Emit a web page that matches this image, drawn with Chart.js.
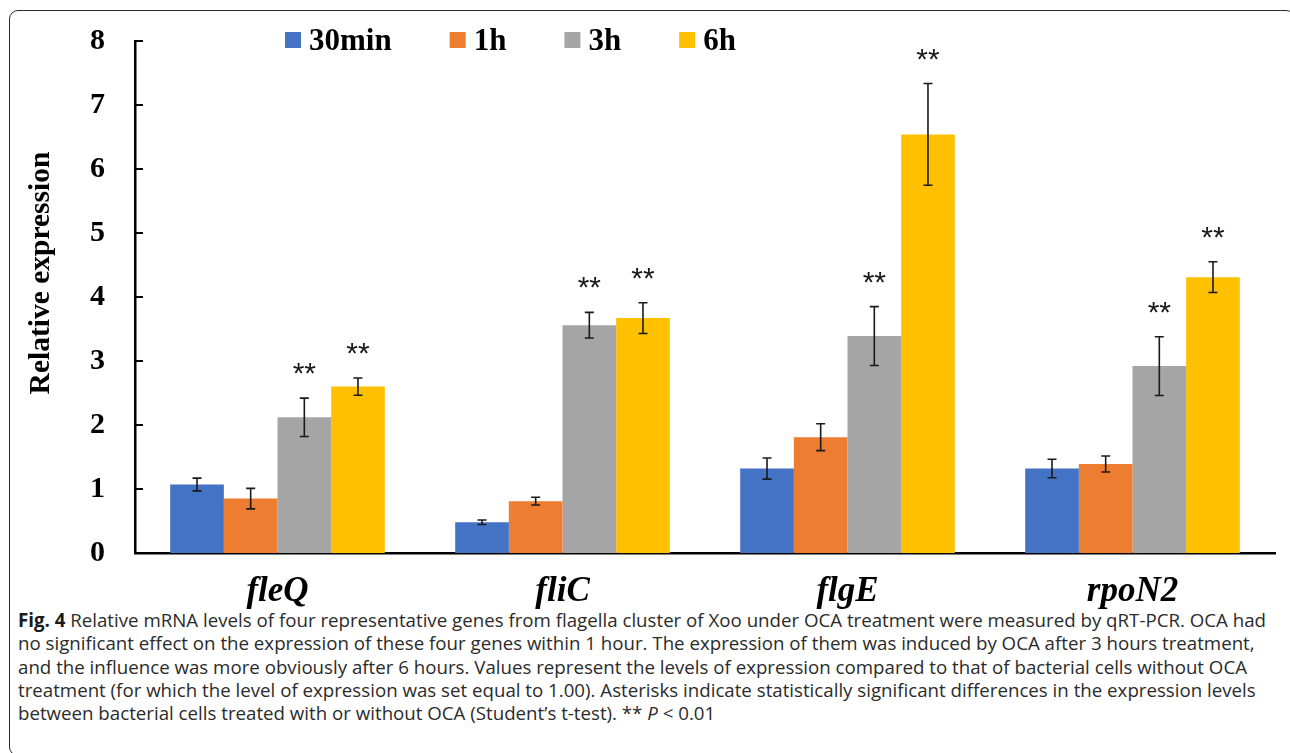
<!DOCTYPE html>
<html>
<head>
<meta charset="utf-8">
<title>Relative expression of flagella genes</title>
<script src="https://cdn.jsdelivr.net/npm/chart.js@4.4.1/dist/chart.umd.min.js"></script>
<style>
  html, body { margin: 0; padding: 0; background: #fff; }
  #page { position: relative; width: 1290px; height: 753px; overflow: hidden; background: #fff; }
  #frame {
    position: absolute; left: 9px; top: 10px; width: 1286px; height: 746px;
    border: 1.5px solid #2a2a2a; border-radius: 9px; box-sizing: border-box;
  }
  #wrap { position: absolute; left: 0; top: 0; width: 1290px; height: 615px; }
  #caption {
    position: absolute; left: 18px; top: 608px;
    font-family: "Open Sans", "Noto Sans", sans-serif; font-size: 18.7px; line-height: 23.3px;
    color: #2b2b2b; white-space: nowrap;
  }
  #caption b { font-weight: 700; color: #1a1a1a; }
</style>
</head>
<body>
<div id="page">
  <div id="frame"></div>
  <div id="caption">
    <div><b>Fig. 4</b> Relative mRNA levels of four representative genes from flagella cluster of Xoo under OCA treatment were measured by qRT-PCR. OCA had</div>
    <div>no significant effect on the expression of these four genes within 1 hour. The expression of them was induced by OCA after 3 hours treatment,</div>
    <div>and the influence was more obviously after 6 hours. Values represent the levels of expression compared to that of bacterial cells without OCA</div>
    <div>treatment (for which the level of expression was set equal to 1.00). Asterisks indicate statistically significant differences in the expression levels</div>
    <div>between bacterial cells treated with or without OCA (Student’s t-test). ** <i>P</i> &lt; 0.01</div>
  </div>
  <div id="wrap"><canvas id="chart" width="1290" height="615"></canvas></div>
</div>
<script>
// Genes (x categories) and treatment times (series)
const genes = ['fleQ', 'fliC', 'flgE', 'rpoN2'];
const timeLabels = ['30min', '1h', '3h', '6h'];

// Mean relative expression per gene
const mean30min = [1.07, 0.48, 1.32, 1.32];
const mean1h    = [0.85, 0.81, 1.81, 1.39];
const mean3h    = [2.12, 3.56, 3.39, 2.92];
const mean6h    = [2.60, 3.67, 6.54, 4.31];

// Error bar half-lengths (SD)
const err30min = [0.10, 0.035, 0.165, 0.145];
const err1h    = [0.16, 0.06, 0.21, 0.125];
const err3h    = [0.30, 0.20, 0.46, 0.46];
const err6h    = [0.135, 0.24, 0.795, 0.24];

// Significance marks (** P < 0.01)
const sig30min = ['', '', '', ''];
const sig1h    = ['', '', '', ''];
const sig3h    = ['**', '**', '**', '**'];
const sig6h    = ['**', '**', '**', '**'];

// Y-axis ticks
const yTicks = [0, 1, 2, 3, 4, 5, 6, 7, 8];

const seriesColors = ['#4472C4', '#ED7D31', '#A5A5A5', '#FFC000'];
const seriesMeans = [mean30min, mean1h, mean3h, mean6h];
const seriesErrs = [err30min, err1h, err3h, err6h];
const seriesSig = [sig30min, sig1h, sig3h, sig6h];

const serif = '"Liberation Serif", "Times New Roman", serif';

// Error bars with caps, and significance asterisks above them
const errorBarPlugin = {
  id: 'errorBars',
  afterDatasetsDraw(chart) {
    const ctx = chart.ctx;
    const y = chart.scales.y;
    ctx.save();
    chart.data.datasets.forEach((ds, i) => {
      const meta = chart.getDatasetMeta(i);
      meta.data.forEach((bar, j) => {
        const v = ds.data[j];
        const e = ds.errors[j];
        const top = y.getPixelForValue(v + e);
        const bot = y.getPixelForValue(v - e);
        const x = bar.x;
        ctx.strokeStyle = '#1a1a1a';
        ctx.lineWidth = 1.6;
        ctx.beginPath();
        ctx.moveTo(x, top); ctx.lineTo(x, bot);
        ctx.moveTo(x - 4.5, top); ctx.lineTo(x + 4.5, top);
        ctx.moveTo(x - 4.5, bot); ctx.lineTo(x + 4.5, bot);
        ctx.stroke();
        const mark = ds.sig[j];
        if (mark) {
          ctx.fillStyle = '#1a1a1a';
          ctx.font = '30px "Liberation Sans", Arial, sans-serif';
          ctx.textAlign = 'center';
          ctx.textBaseline = 'alphabetic';
          ctx.fillText(mark, x, top - 15);
        }
      });
    });
    ctx.restore();
  }
};

// Inward tick marks on the value axis
const innerTicksPlugin = {
  id: 'innerTicks',
  afterDraw(chart) {
    const ctx = chart.ctx;
    const y = chart.scales.y;
    const left = chart.chartArea.left;
    ctx.save();
    ctx.strokeStyle = '#000';
    ctx.lineWidth = 2;
    y.ticks.forEach(t => {
      const py = Math.round(y.getPixelForValue(t.value));
      ctx.beginPath();
      ctx.moveTo(left, py);
      ctx.lineTo(left + 8, py);
      ctx.stroke();
    });
    ctx.restore();
  }
};

// Rotated y-axis title
const yTitlePlugin = {
  id: 'yTitle',
  afterDraw(chart) {
    const ctx = chart.ctx;
    ctx.save();
    ctx.translate(41, 273);
    ctx.rotate(-Math.PI / 2);
    ctx.font = 'bold 29.5px ' + serif;
    ctx.fillStyle = '#000';
    ctx.textAlign = 'center';
    ctx.textBaseline = 'middle';
    ctx.fillText('Relative expression', 0, 0);
    ctx.restore();
  }
};

// Horizontal legend across the top
const legendPlugin = {
  id: 'topLegend',
  afterDraw(chart) {
    const ctx = chart.ctx;
    ctx.save();
    ctx.font = 'bold 31px ' + serif;
    ctx.textBaseline = 'alphabetic';
    ctx.textAlign = 'left';
    let x = 285;
    chart.data.datasets.forEach(ds => {
      ctx.fillStyle = ds.backgroundColor;
      ctx.fillRect(x, 32, 16, 16);
      ctx.fillStyle = '#000';
      ctx.fillText(ds.label, x + 24, 50);
      x += 24 + ctx.measureText(ds.label).width + 58;
    });
    ctx.restore();
  }
};

new Chart(document.getElementById('chart'), {
  type: 'bar',
  data: {
    labels: genes,
    datasets: timeLabels.map((t, i) => ({
      label: t,
      data: seriesMeans[i],
      errors: seriesErrs[i],
      sig: seriesSig[i],
      backgroundColor: seriesColors[i],
      borderWidth: 0,
      categoryPercentage: 0.753,
      barPercentage: 1.0
    }))
  },
  options: {
    responsive: false,
    animation: false,
    devicePixelRatio: 1,
    layout: { padding: { left: 0, right: 15, top: 41, bottom: 0 } },
    plugins: {
      legend: { display: false },
      tooltip: { enabled: false }
    },
    scales: {
      x: {
        grid: { display: false, drawTicks: false },
        border: { display: true, color: '#000', width: 2.5 },
        ticks: {
          color: '#000',
          padding: 18,
          font: { family: serif, size: 35, weight: 'bold', style: 'italic' }
        },
        afterFit(scale) { scale.height = 62; }
      },
      y: {
        min: 0,
        max: 8,
        grid: { display: false, drawTicks: false },
        border: { display: true, color: '#000', width: 2.5 },
        afterBuildTicks(scale) { scale.ticks = yTicks.map(v => ({ value: v })); },
        ticks: {
          color: '#000',
          padding: 30,
          font: { family: serif, size: 30, weight: 'bold', lineHeight: 0.5 }
        },
        afterFit(scale) { scale.width = 135; }
      }
    }
  },
  plugins: [errorBarPlugin, innerTicksPlugin, yTitlePlugin, legendPlugin]
});
</script>
</body>
</html>
